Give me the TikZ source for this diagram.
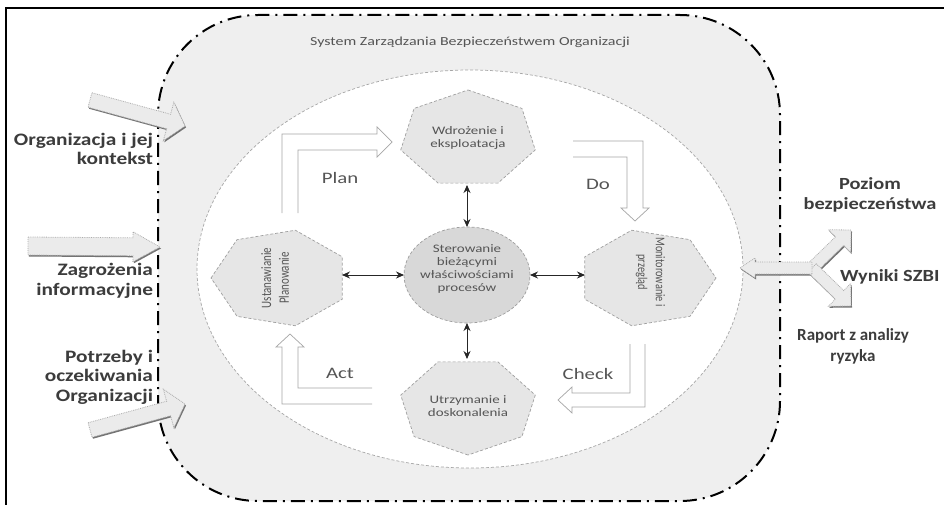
\documentclass[tikz,border=0pt]{standalone}
\usepackage{fontspec}
\usepackage{graphicx}
\usetikzlibrary{arrows.meta,calc,shapes.geometric}
\setmainfont{Carlito}
\newfontfamily\lblfont[FakeStretch=1.3]{Carlito}
\newfontfamily\sidefont[FakeStretch=1.22]{Carlito}
\newfontfamily\outfont[FakeStretch=1.2]{Carlito}

\definecolor{sysgray}{HTML}{EFEFEF}
\definecolor{heptgray}{HTML}{E6E6E6}
\definecolor{coregray}{HTML}{D8D8D8}
\definecolor{inkgray}{HTML}{555555}
\definecolor{sidegray}{HTML}{3C3C3C}
\definecolor{arrowfill}{HTML}{EBEBEB}

\tikzset{
  every node/.style={inner sep=0pt, outer sep=0pt},
  frameline/.style={line width=2pt, black},
  sysbox/.style={fill=sysgray, draw=black, line width=2pt,
    dash pattern=on 14pt off 6pt on 2pt off 6pt, rounded corners=100pt},
  procarea/.style={fill=white, draw=gray!70, line width=0.7pt, densely dashed},
  heptbox/.style={fill=heptgray, draw=gray!75, line width=0.7pt, densely dashed},
  corebox/.style={ellipse, fill=coregray, draw=gray!75, line width=0.7pt, densely dashed,
    minimum width=126pt, minimum height=96pt},
  heptlabel/.style={font=\lblfont\fontsize{11.5}{13}\selectfont, text=inkgray, align=center},
  sidewayslabel/.style={font=\fontsize{11}{13.5}\selectfont, text=inkgray},
  cyclelabel/.style={font=\lblfont\fontsize{16}{18}\selectfont, text=inkgray},
  titlelabel/.style={font=\lblfont\fontsize{12.3}{14}\selectfont, text=inkgray},
  inlabel/.style={font=\sidefont\bfseries\fontsize{17.5}{19.5}\selectfont, text=sidegray, align=right},
  outlabel/.style={font=\outfont\bfseries\fontsize{17}{20}\selectfont, text=sidegray, align=center},
  reportlabel/.style={font=\bfseries\fontsize{17}{21}\selectfont, text=sidegray, align=center},
  link/.style={{Stealth[length=8pt,width=7pt]}-{Stealth[length=8pt,width=7pt]}, line width=0.9pt, black!85},
  cyclearrow/.style={fill=white, draw=gray!70, line width=0.7pt, line join=miter},
  blockarrow/.style={fill=arrowfill, draw=gray!65, line width=0.8pt, densely dotted},
  blockshadow/.style={fill=black!55},
}

% heptagon on an ellipse of radii 69pt x 49pt: centre x, centre y, angle of first vertex, style
\newcommand\heptpath[4]{%
  \path[#4] plot[samples at={0,...,6}, variable=\k]
    ({#1+69*cos(#3+\k*360/7)},{#2+49*sin(#3+\k*360/7)}) -- cycle;}

% straight block arrow: style, tail, tip, shaft half width, head half width, head length
\newcommand\blockarr[6]{%
  \coordinate (ba-b) at ($(#3)!#6!(#2)$);
  \path[#1] ($(#2)!#4!90:(#3)$) -- ($(ba-b)!#4!90:(#3)$) -- ($(ba-b)!#5!90:(#3)$)
    -- (#3) -- ($(ba-b)!#5!-90:(#3)$) -- ($(ba-b)!#4!-90:(#3)$) -- ($(#2)!#4!-90:(#3)$) -- cycle;}

% sideways two-line text, widened across its lines
\newcommand\sideways[3]{\scalebox{1.3}[1]{\rotatebox{#1}{\begin{tabular}{@{}c@{}}#2\\#3\end{tabular}}}}

\begin{document}
\begin{tikzpicture}[x=1pt,y=-1pt]
\useasboundingbox (0,0) rectangle (944,505);
\clip (0,0) rectangle (944,505);

% management system area and the process area inside it
\draw[sysbox] (158,15) rectangle (780,501);
\node[titlelabel] (title) at (470,42) {System Zarządzania Bezpieczeństwem Organizacji};
\path[procarea] (470,269) ellipse [x radius=273pt, y radius=199pt];

% outer frame
\draw[frameline] (6,506) -- (6,8) -- (945,8);

% four process stages
\heptpath{468}{139}{-90}{heptbox}
\heptpath{468}{406}{90}{heptbox}
\heptpath{280}{278}{180}{heptbox}
\heptpath{647}{278}{0}{heptbox}
\node[heptlabel, minimum width=134pt, minimum height=94pt] (th) at (468,138) {Wdrożenie i\\eksploatacja};
\node[heptlabel, minimum width=134pt, minimum height=94pt] (bh) at (468,406) {Utrzymanie i\\doskonalenia};
\node[sidewayslabel, minimum width=131pt, minimum height=97pt] (lh) at (276.5,278)
  {\sideways{90}{Ustanawianie}{Planowanie}};
\node[sidewayslabel, minimum width=131pt, minimum height=97pt] (rh) at (650.5,272)
  {\fontsize{10.3}{13.5}\selectfont\sideways{-90}{Monitorowanie i}{przegląd}};

% central process control
\node[corebox] (ctr) at (467,275) {};
\node[heptlabel] (ctrtext) at (467,269) {Sterowanie\\bieżącymi\\właściwościami\\procesów};

\draw[link] (ctr.north |- th.south) -- (ctr.north);
\draw[link] (ctr.south) -- (ctr.south |- bh.north);
\draw[link] (lh.east |- ctr.west) -- (ctr.west);
\draw[link] (ctr.east) -- (ctr.east -| rh.west);

% PDCA cycle arrows
\path[cyclearrow] (282,213) -- (282,134) -- (377,134) -- (377,127) -- (392,142)
  -- (377,157) -- (377,150) -- (298,150) -- (298,213);
\path[cyclearrow] (573,141) -- (643,141) -- (643,208) -- (649,208) -- (635,221)
  -- (621,208) -- (627,208) -- (627,157) -- (573,157);
\path[cyclearrow] (645,344) -- (645,407) -- (572,407) -- (572,413) -- (558,400)
  -- (572,387) -- (572,393) -- (630,393) -- (630,344);
\path[cyclearrow] (372,404) -- (282,404) -- (282,347) -- (276,347) -- (290,334)
  -- (304,347) -- (298,347) -- (298,388) -- (372,388);
\node[cyclelabel] (plan) at (340,178) {Plan};
\node[cyclelabel] (do) at (598,184) {Do};
\node[cyclelabel] (check) at (588,374) {Check};
\node[cyclelabel] (act) at (340,373) {Act};

% inputs
\coordinate (in1s) at (90,100);  \coordinate (in1t) at (185,126);
\coordinate (in2s) at (28,246);  \coordinate (in2t) at (160,247);
\coordinate (in3s) at (90,430);  \coordinate (in3t) at (185,404);
\begin{scope}[transform canvas={shift={(1pt,-1.5pt)}}]
  \blockarr{blockshadow}{in1s}{in1t}{7.5pt}{20pt}{17pt}
  \blockarr{blockshadow}{in2s}{in2t}{9pt}{15pt}{27pt}
  \blockarr{blockshadow}{in3s}{in3t}{7.5pt}{20pt}{17pt}
\end{scope}
\blockarr{blockarrow}{in1s}{in1t}{7.5pt}{20pt}{17pt}
\blockarr{blockarrow}{in2s}{in2t}{9pt}{15pt}{27pt}
\blockarr{blockarrow}{in3s}{in3t}{7.5pt}{20pt}{17pt}

\node[inlabel, anchor=east] (in1) at (153,149) {Organizacja i jej\\kontekst};
\node[inlabel, anchor=east] (in2) at (153,281) {Zagrożenia\\informacyjne};
\node[inlabel, anchor=east] (in3) at (153,377) {Potrzeby i\\oczekiwania\\Organizacji};

% outputs
\coordinate (outj) at (812,268);
\coordinate (outl) at (740,268);
\coordinate (outu) at (851,230);
\coordinate (outd) at (851,306);
\begin{scope}[transform canvas={shift={(1pt,-1.5pt)}}]
  \blockarr{blockshadow}{outj}{outu}{6pt}{16pt}{16pt}
  \blockarr{blockshadow}{outj}{outd}{6pt}{16pt}{16pt}
  \blockarr{blockshadow}{outj}{outl}{6pt}{10pt}{15pt}
\end{scope}
\blockarr{blockarrow}{outj}{outu}{6pt}{16pt}{16pt}
\blockarr{blockarrow}{outj}{outd}{6pt}{16pt}{16pt}
\blockarr{blockarrow}{outj}{outl}{6pt}{10pt}{15pt}

\node[outlabel] (out1) at (870,195) {Poziom\\bezpieczeństwa};
\node[outlabel, anchor=west] (out2) at (840,277) {Wyniki SZBI};
\node[reportlabel] (out3) at (853,346) {Raport z analizy\\ryzyka};
\end{tikzpicture}
\end{document}
